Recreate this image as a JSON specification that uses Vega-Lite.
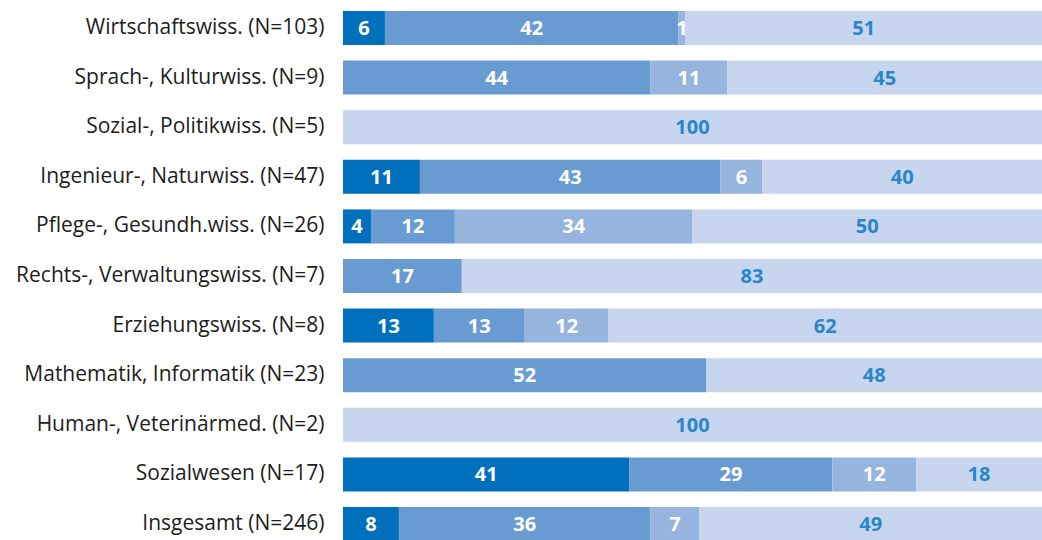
{
  "$schema": "https://vega.github.io/schema/vega-lite/v6.json",
  "autosize": "none",
  "padding": {"left": 343, "top": 0, "right": 0, "bottom": 0},
  "width": 699,
  "height": 552,
  "background": "white",
  "config": {"view": {"stroke": null}, "font": "Open Sans"},
  "data": {"values": [
    {"label": "Wirtschaftswiss. (N=103)", "cat": "k1", "o": 1, "value": 6},
    {"label": "Wirtschaftswiss. (N=103)", "cat": "k2", "o": 2, "value": 42},
    {"label": "Wirtschaftswiss. (N=103)", "cat": "k3", "o": 3, "value": 1},
    {"label": "Wirtschaftswiss. (N=103)", "cat": "k4", "o": 4, "value": 51},
    {"label": "Sprach-, Kulturwiss. (N=9)", "cat": "k2", "o": 2, "value": 44},
    {"label": "Sprach-, Kulturwiss. (N=9)", "cat": "k3", "o": 3, "value": 11},
    {"label": "Sprach-, Kulturwiss. (N=9)", "cat": "k4", "o": 4, "value": 45},
    {"label": "Sozial-, Politikwiss. (N=5)", "cat": "k4", "o": 4, "value": 100},
    {"label": "Ingenieur-, Naturwiss. (N=47)", "cat": "k1", "o": 1, "value": 11},
    {"label": "Ingenieur-, Naturwiss. (N=47)", "cat": "k2", "o": 2, "value": 43},
    {"label": "Ingenieur-, Naturwiss. (N=47)", "cat": "k3", "o": 3, "value": 6},
    {"label": "Ingenieur-, Naturwiss. (N=47)", "cat": "k4", "o": 4, "value": 40},
    {"label": "Pflege-, Gesundh.wiss. (N=26)", "cat": "k1", "o": 1, "value": 4},
    {"label": "Pflege-, Gesundh.wiss. (N=26)", "cat": "k2", "o": 2, "value": 12},
    {"label": "Pflege-, Gesundh.wiss. (N=26)", "cat": "k3", "o": 3, "value": 34},
    {"label": "Pflege-, Gesundh.wiss. (N=26)", "cat": "k4", "o": 4, "value": 50},
    {"label": "Rechts-, Verwaltungswiss. (N=7)", "cat": "k2", "o": 2, "value": 17},
    {"label": "Rechts-, Verwaltungswiss. (N=7)", "cat": "k4", "o": 4, "value": 83},
    {"label": "Erziehungswiss. (N=8)", "cat": "k1", "o": 1, "value": 13},
    {"label": "Erziehungswiss. (N=8)", "cat": "k2", "o": 2, "value": 13},
    {"label": "Erziehungswiss. (N=8)", "cat": "k3", "o": 3, "value": 12},
    {"label": "Erziehungswiss. (N=8)", "cat": "k4", "o": 4, "value": 62},
    {"label": "Mathematik, Informatik (N=23)", "cat": "k2", "o": 2, "value": 52},
    {"label": "Mathematik, Informatik (N=23)", "cat": "k4", "o": 4, "value": 48},
    {"label": "Human-, Veterinärmed. (N=2)", "cat": "k4", "o": 4, "value": 100},
    {"label": "Sozialwesen (N=17)", "cat": "k1", "o": 1, "value": 41},
    {"label": "Sozialwesen (N=17)", "cat": "k2", "o": 2, "value": 29},
    {"label": "Sozialwesen (N=17)", "cat": "k3", "o": 3, "value": 12},
    {"label": "Sozialwesen (N=17)", "cat": "k4", "o": 4, "value": 18},
    {"label": "Insgesamt (N=246)", "cat": "k1", "o": 1, "value": 8},
    {"label": "Insgesamt (N=246)", "cat": "k2", "o": 2, "value": 36},
    {"label": "Insgesamt (N=246)", "cat": "k3", "o": 3, "value": 7},
    {"label": "Insgesamt (N=246)", "cat": "k4", "o": 4, "value": 49}
  ]},
  "transform": [
    {"stack": "value", "groupby": ["label"], "sort": [{"field": "o", "order": "ascending"}], "as": ["x0", "x1"]},
    {"calculate": "(datum.x0 + datum.x1) / 2", "as": "xm"}
  ],
  "encoding": {
    "y": {
      "field": "label", "type": "nominal", "sort": null,
      "scale": {"paddingInner": 0.315, "paddingOuter": 0.222},
      "axis": {"title": null, "domain": false, "ticks": false, "labelPadding": 19, "labelFontSize": 21, "labelColor": "#1d1d1b", "labelFont": "Open Sans", "labelLimit": 400}
    }
  },
  "layer": [
    {
      "mark": {"type": "bar"},
      "encoding": {
        "x": {"field": "x0", "type": "quantitative", "scale": {"domain": [0, 100], "nice": false, "zero": true}, "axis": null},
        "x2": {"field": "x1"},
        "color": {"field": "cat", "type": "nominal", "scale": {"domain": ["k1", "k2", "k3", "k4"], "range": ["#0070bc", "#699bd3", "#95b5df", "#c7d5ee"]}, "legend": null}
      }
    },
    {
      "mark": {"type": "text", "fontSize": 20, "fontWeight": "bold", "baseline": "middle", "align": "center", "font": "Open Sans", "dy": 1},
      "encoding": {
        "x": {"field": "xm", "type": "quantitative"},
        "text": {"field": "value", "type": "quantitative"},
        "color": {"condition": {"test": "datum.cat === 'k4'", "value": "#2a86c9"}, "value": "white"}
      }
    }
  ]
}
